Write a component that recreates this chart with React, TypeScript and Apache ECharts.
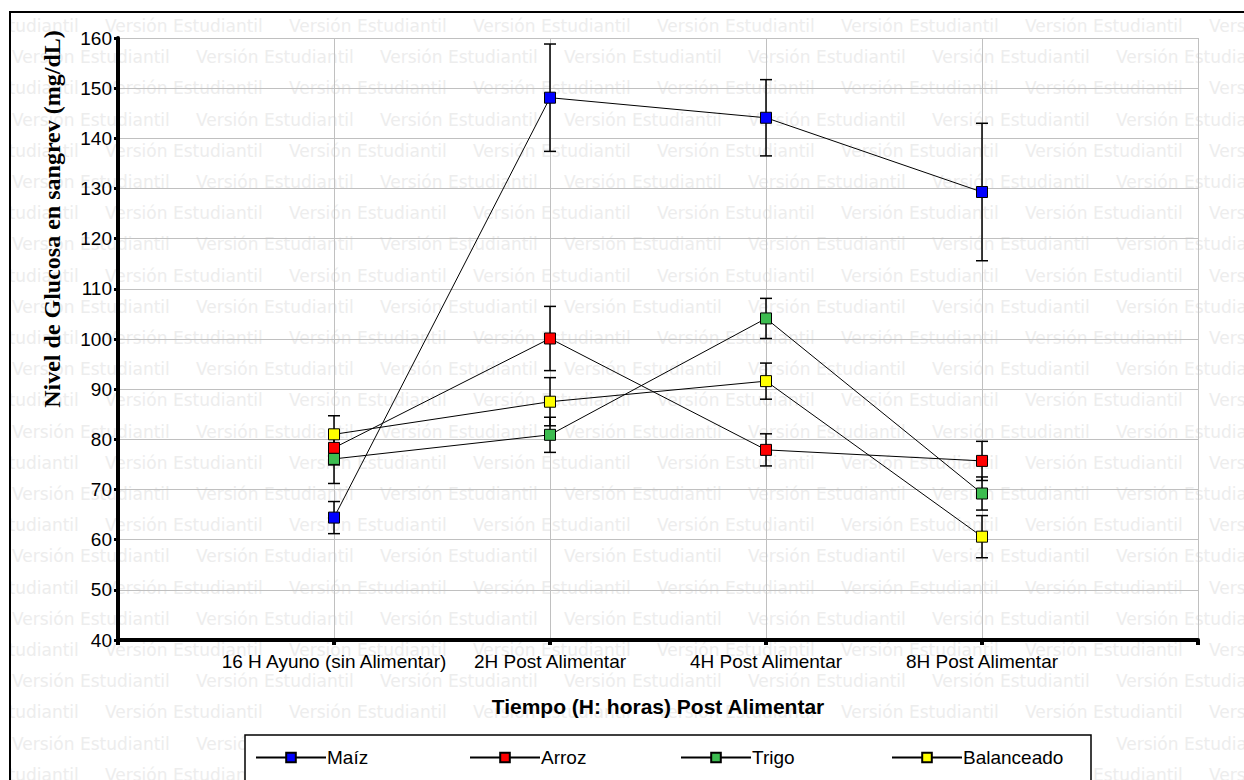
import React, { useEffect, useRef } from "react";
import * as echarts from "echarts";

const categories = [
  "16 H Ayuno (sin Alimentar)",
  "2H Post Alimentar",
  "4H Post Alimentar",
  "8H Post Alimentar",
];
const seriesNames = ["Maíz", "Arroz", "Trigo", "Balanceado"];
const seriesColors = ["#0000ff", "#ff0000", "#3cbc50", "#ffff00"];

const maiz = [64.4, 148.1, 144.1, 129.3];
const maizErr = [3.2, 10.7, 7.6, 13.7];
const arroz = [78.3, 100.1, 77.9, 75.7];
const arrozErr = [3.4, 6.4, 3.2, 3.9];
const trigo = [76.1, 80.9, 104.1, 69.2];
const trigoErr = [4.9, 3.5, 4.0, 3.3];
const balanceado = [81.0, 87.5, 91.6, 60.6];
const balanceadoErr = [3.7, 4.8, 3.6, 4.2];

const yMin = 40;
const yMax = 160;
const yStep = 10;

const xTitle = "Tiempo (H: horas) Post Alimentar";
const yTitle = "Nivel de Glucosa en sangrev (mg/dL)";
const watermark = "Versión Estudiantil";

const values = [maiz, arroz, trigo, balanceado];
const errors = [maizErr, arrozErr, trigoErr, balanceadoErr];

const legendLefts = [250, 464, 675, 886];

export default function App() {
  const ref = useRef<HTMLDivElement>(null);

  useEffect(() => {
    if (!ref.current) return;
    const chart = echarts.init(ref.current, null, { renderer: "svg" });

    const wm: any[] = [];
    for (let i = 0; i < 25; i++) {
      const y = 26 + 31.2 * i;
      let x = i % 2 === 0 ? 105 - 184 : 12;
      for (; x < 1244; x += 184) {
        wm.push({
          type: "text",
          x,
          y,
          silent: true,
          z: -10,
          style: {
            text: watermark,
            fill: "#ededed",
            fontSize: 17,
            fontFamily: "'DejaVu Sans'",
            verticalAlign: "middle",
            align: "left",
          },
        });
      }
    }

    const lineSeries = seriesNames.map((name, si) => ({
      name,
      type: "line",
      data: values[si].map((v, i) => [i + 1, v]),
      symbol: "rect",
      symbolSize: 11,
      z: 4,
      itemStyle: {
        color: seriesColors[si],
        borderColor: "#000",
        borderWidth: 1,
      },
      lineStyle: { color: "#000", width: 1 },
      emphasis: { disabled: true },
    }));

    const errSeries = seriesNames.map((name, si) => ({
      name: name + " err",
      type: "custom",
      z: 3,
      silent: true,
      data: values[si].map((v, i) => [i + 1, v - errors[si][i], v + errors[si][i]]),
      renderItem: (params: any, api: any) => {
        const x = api.value(0);
        const lo = api.coord([x, api.value(1)]);
        const hi = api.coord([x, api.value(2)]);
        const hw = 6;
        const st = { stroke: "#000", lineWidth: 1.5 };
        return {
          type: "group",
          children: [
            { type: "line", shape: { x1: lo[0], y1: lo[1], x2: hi[0], y2: hi[1] }, style: st },
            { type: "line", shape: { x1: hi[0] - hw, y1: hi[1], x2: hi[0] + hw, y2: hi[1] }, style: st },
            { type: "line", shape: { x1: lo[0] - hw, y1: lo[1], x2: lo[0] + hw, y2: lo[1] }, style: st },
          ],
        };
      },
    }));

    const legends = seriesNames.map((name, i) => ({
      data: [name],
      left: legendLefts[i],
      top: 743,
      orient: "horizontal",
      itemWidth: 70,
      itemHeight: 12,
      itemGap: 0,
      selectedMode: false,
      z: 6,
      textStyle: {
        color: "#000",
        fontSize: 19,
        fontFamily: "'Liberation Sans', Arial",
        padding: [0, 0, 0, -4],
      },
    }));

    chart.setOption({
      animation: false,
      backgroundColor: "#ffffff",
      grid: { left: 118, top: 38, right: 46, bottom: 140, containLabel: false },
      xAxis: {
        type: "value",
        min: 0,
        max: categories.length + 1,
        interval: 1,
        axisLine: { show: true, lineStyle: { color: "#000", width: 4 } },
        axisTick: { show: true, length: 5, lineStyle: { color: "#000", width: 4 } },
        splitLine: { show: true, lineStyle: { color: "#c0c0c0", width: 1 } },
        axisLabel: {
          formatter: (v: number) => categories[v - 1] ?? "",
          color: "#000",
          fontSize: 19,
          fontFamily: "'Liberation Sans', Arial",
          margin: 12,
        },
        name: xTitle,
        nameLocation: "middle",
        nameGap: 56,
        nameTextStyle: {
          color: "#000",
          fontSize: 21,
          fontWeight: "bold",
          fontFamily: "'Liberation Sans', Arial",
        },
      },
      yAxis: {
        type: "value",
        min: yMin,
        max: yMax,
        interval: yStep,
        axisLine: { show: true, lineStyle: { color: "#000", width: 4 } },
        axisTick: { show: true, length: 4, lineStyle: { color: "#000", width: 3 } },
        splitLine: { show: true, lineStyle: { color: "#c0c0c0", width: 1 } },
        axisLabel: {
          color: "#000",
          fontSize: 19,
          fontFamily: "'Liberation Sans', Arial",
          margin: 6,
        },
      },
      legend: legends,
      graphic: [
        ...wm,
        { type: "rect", silent: true, z: -5, shape: { x: 0, y: 0, width: 10, height: 780 }, style: { fill: "#fff" } },
        { type: "rect", silent: true, z: -5, shape: { x: 0, y: 0, width: 1244, height: 12 }, style: { fill: "#fff" } },
        {
          type: "rect",
          silent: true,
          z: 1,
          shape: { x: 245, y: 735, width: 846, height: 80 },
          style: { fill: "#fff", stroke: "#000", lineWidth: 1.5 },
        },
        {
          type: "rect",
          silent: true,
          z: 10,
          shape: { x: 10, y: 12, width: 1300, height: 900 },
          style: { fill: "none", stroke: "#000", lineWidth: 2 },
        },
        {
          type: "text",
          x: 52,
          y: 219,
          rotation: Math.PI / 2,
          silent: true,
          z: 5,
          style: {
            text: yTitle,
            fill: "#000",
            font: "bold 24px 'Liberation Serif', 'Times New Roman', serif",
            align: "center",
            verticalAlign: "middle",
          },
        },
      ],
      series: [...errSeries, ...lineSeries],
    });

    return () => chart.dispose();
  }, []);

  return (
    <div
      ref={ref}
      style={{ position: "fixed", left: 0, top: 0, width: 1244, height: 780 }}
    />
  );
}
